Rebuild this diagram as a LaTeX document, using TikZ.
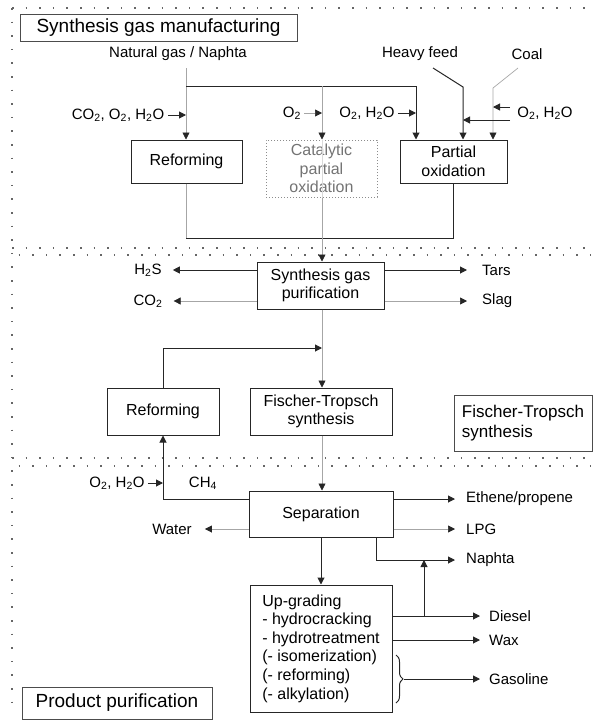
\documentclass[tikz,border=0pt]{standalone}
\usepackage{fontspec}
\setmainfont{Liberation Sans}
\usetikzlibrary{arrows.meta,decorations.pathreplacing,calc}
\begin{document}
\begin{tikzpicture}[x=1pt,y=-1pt,
  box/.style={draw=black!85, line width=1pt, align=center, inner sep=0pt, font=\fontsize{16}{18.5}\selectfont},
  lbl/.style={inner sep=0pt, font=\fontsize{15}{17}\selectfont},
  dk/.style={draw=black!85, line width=1pt},
  gr/.style={draw=black!35, line width=0.7pt},
  arr/.style={-{Triangle[length=7pt,width=7pt]}},
  garr/.style={-{Triangle[length=7pt,width=7pt,color=black!85]}},
  dotsep/.style={draw=black!60, line width=1.6pt, dash pattern=on 1.6pt off 12pt},
  title/.style={draw=black!70, line width=0.9pt, inner sep=0pt, font=\fontsize{19}{22}\selectfont}
]
\path[use as bounding box] (0,0) rectangle (594,723);

% section separators
\draw[dotsep] (12,8) -- (594,8);
\draw[dotsep] (12,8) -- (12,715);
\draw[dotsep] (12,248) -- (594,248);
\draw[dotsep,dash phase=7pt] (12,255) -- (594,255);
\draw[dotsep] (12,458) -- (594,458);
\draw[dotsep,dash phase=7pt] (12,466) -- (594,466);

% ---------- Section 1 ----------
\node[title, minimum width=277pt, minimum height=27pt] (t1) at (158.5,27.5) {Synthesis gas manufacturing};
\node[lbl] (ng) at (178,54) {Natural gas / Naphta};
\node[lbl] (hf) at (420,54) {Heavy feed};
\node[lbl] (coal) at (527,54) {Coal};
\node[lbl] (in1) at (118,115) {CO\textsubscript{2}, O\textsubscript{2}, H\textsubscript{2}O};
\node[lbl] (in2) at (292,113) {O\textsubscript{2}};
\node[lbl] (in3) at (367,113) {O\textsubscript{2}, H\textsubscript{2}O};
\node[lbl] (in4) at (545,113) {O\textsubscript{2}, H\textsubscript{2}O};

\node[box, minimum width=111pt, minimum height=43pt] (ref1) at (186.5,161.5) {Reforming};
\node[box, draw=black!45, dotted, text=black!55, minimum width=111pt, minimum height=57pt] (cpo) at (321.5,168.5) {Catalytic\\partial\\oxidation};
\node[box, minimum width=107pt, minimum height=43pt] (pox) at (453.5,161.5) {Partial\\oxidation};

\coordinate (ngs) at (186,68);
\coordinate (j1) at (186,86);
\coordinate (cpx) at (322,86);
\coordinate (pxa) at (416,86);
\coordinate (hfa) at (433,68);
\coordinate (hfb) at (463,87);
\coordinate (coa) at (518,68);
\coordinate (cob) at (493,88);
\coordinate (bot) at (322,238);

\draw[gr,garr] (ngs) -- (ngs |- ref1.north);
\draw[dk,arr] (j1) -- (pxa) -- (pxa |- pox.north);
\draw[gr,garr] (cpx) -- (cpx |- cpo.north);
\draw[black!15, line width=0.6pt] (cpx |- cpo.north) -- (cpx |- cpo.south);
\draw[dk,arr] (hfa) -- (hfb) -- (hfb |- pox.north);
\draw[gr,garr] (coa) -- (cob) -- (cob |- pox.north);
\draw[dk,arr,shorten <=4pt] (in1.east) -- (in1 -| ngs);
\draw[gr,garr,shorten <=3pt] (in2.east) -- (in2 -| cpx);
\draw[dk,arr,shorten <=3pt] (in3.east) -- (in3 -| pxa);
\draw[dk,arr] ($(in4.west)+(-7,-6)$) -- ($(in4.west -| cob)+(0,-6)$);
\draw[dk,arr] ($(in4.west)+(-7,7)$) -- ($(in4.west -| hfb)+(0,7)$);

\draw[gr] (ngs |- ref1.south) -- (ngs |- bot);
\draw[dk] (pox.south) |- (ngs |- bot);
\draw[gr] (cpx |- cpo.south) -- (bot);

% ---------- Section 2 ----------
\node[box, minimum width=127pt, minimum height=47pt] (pur) at (320.5,285.5) {Synthesis gas\\purification};
\node[lbl] (h2s) at (148,270) {H\textsubscript{2}S};
\node[lbl] (co2) at (148,301) {CO\textsubscript{2}};
\node[lbl, anchor=west] (tars) at (482,270) {Tars};
\node[lbl, anchor=west] (slag) at (482,301) {Slag};

\draw[gr,garr] (bot) -- (bot |- pur.north);
\draw[dk,arr,shorten >=11pt] (pur.west |- h2s) -- (h2s.east);
\draw[gr,garr,shorten >=11pt] (pur.west |- co2) -- (co2.east);
\draw[dk,arr,shorten >=15pt] (pur.east |- tars) -- (tars.west);
\draw[gr,garr,shorten >=15pt] (pur.east |- slag) -- (slag.west);

\node[box, minimum width=142pt, minimum height=47pt] (ft) at (321,411.5) {Fischer-Tropsch\\synthesis};
\node[box, minimum width=112pt, minimum height=47pt] (ref2) at (163,411.5) {Reforming};
\node[title, align=left, minimum width=138pt, minimum height=56pt, font=\fontsize{17}{20}\selectfont] (ftl) at (523,423) {Fischer-Tropsch\\synthesis};

\coordinate (mix) at (322,348);
\draw[gr,garr] (bot |- pur.south) -- (bot |- ft.north);
\draw[dk,arr] (ref2.north) |- (mix);

% ---------- Section 3 ----------
\node[box, minimum width=144pt, minimum height=46pt] (sep) at (321,514) {Separation};
\draw[gr,garr] (bot |- ft.south) -- (bot |- sep.north);

\node[lbl] (o2c) at (117,483) {O\textsubscript{2}, H\textsubscript{2}O};
\node[lbl] (ch4) at (203,483) {CH\textsubscript{4}};
\coordinate (ch4c) at (163,499);
\draw[dk,arr] (sep.west |- ch4c) -- (ch4c) -- (ref2.south);
\draw[dk,arr,shorten <=3pt] (o2c.east) -- (o2c -| ch4c);

\node[lbl] (water) at (172,529) {Water};
\draw[gr,garr,shorten >=13pt] (sep.west |- water) -- (water.east);

\node[lbl,anchor=west] (eth) at (466,499) {Ethene/propene};
\node[lbl,anchor=west] (lpg) at (466,529) {LPG};
\node[lbl,anchor=west] (nap) at (466,560) {Naphta};
\draw[dk,arr,shorten >=11pt] (sep.east |- eth) -- (eth.west);
\draw[gr,garr,shorten >=11pt] (sep.east |- lpg) -- (lpg.west);
\coordinate (ns) at ($(sep.south east)+(-17,0)$);
\draw[dk,arr,shorten >=11pt] (ns) |- (nap.west);

\node[box, align=left, minimum width=142pt, minimum height=127pt, font=\fontsize{16}{18.6}\selectfont] (upg) at (321,648.5)
  {Up-grading\\- hydrocracking\\- hydrotreatment\\(- isomerization)\\(- reforming)\\(- alkylation)};
\draw[dk,arr] (sep.south) -- (upg.north);

\node[lbl,anchor=west] (die) at (489,616) {Diesel};
\node[lbl,anchor=west] (wax) at (489,640) {Wax};
\node[lbl,anchor=west] (gas) at (489,679) {Gasoline};
\draw[dk,arr,shorten >=9pt] (upg.east |- die) -- (die.west);
\draw[dk,arr,shorten >=9pt] (upg.east |- wax) -- (wax.west);
\coordinate (dj) at (424,616);
\draw[dk,arr] (dj) -- (dj |- nap);

\coordinate (bt) at (396,655);
\coordinate (bb) at (396,703);
\coordinate (btip) at (404,679);
\draw[dk, decorate, decoration={brace,amplitude=7pt}] (bt) -- (bb);
\draw[dk,arr,shorten >=9pt] (btip) -- (gas.west);

\node[title, minimum width=190pt, minimum height=32pt] (pp) at (117,703) {Product purification};
\end{tikzpicture}
\end{document}
